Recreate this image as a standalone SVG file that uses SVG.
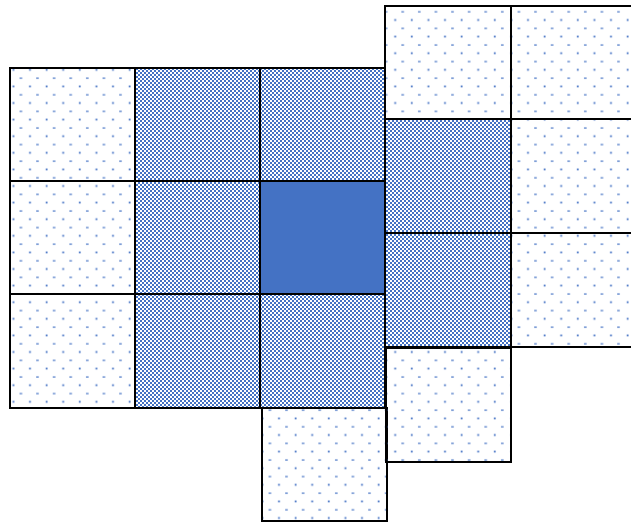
<svg xmlns="http://www.w3.org/2000/svg" width="631" height="523" viewBox="0 0 631 523">
<defs>
<pattern id="dots" x="0" y="0" width="16.6" height="16.6" patternUnits="userSpaceOnUse">
<rect x="12.5" y="2.5" width="1.8" height="1.8" fill="#4472C4"/>
<rect x="3" y="11.2" width="2.6" height="1.2" fill="#4472C4"/>
</pattern>
<pattern id="check" x="0" y="0" width="4" height="4" patternUnits="userSpaceOnUse">
<rect width="4" height="4" fill="#ffffff" shape-rendering="crispEdges"/>
<rect x="0" y="0" width="2" height="2" fill="#4472C4" shape-rendering="crispEdges"/>
<rect x="2" y="2" width="2" height="2" fill="#4472C4" shape-rendering="crispEdges"/>
</pattern>
</defs>
<style>
.c{stroke:#000;stroke-width:2;}
.d{fill:url(#dots);}
.k{fill:url(#check);}
.s{fill:#4472C4;}
</style>
<rect width="631" height="523" fill="#fff"/>
<g id="left-col">
<rect id="n1" class="c d" x="10" y="68" width="125" height="113"/>
<rect id="n2" class="c d" x="10" y="181" width="125" height="113"/>
<rect id="n3" class="c d" x="10" y="294" width="125" height="114"/>
</g>
<g id="mid">
<rect id="n4" class="c k" x="135" y="68" width="125" height="113"/>
<rect id="n5" class="c k" x="260" y="68" width="125" height="113"/>
<rect id="n6" class="c k" x="135" y="181" width="125" height="113"/>
<rect id="n7" class="c s" x="260" y="181" width="125" height="113"/>
<rect id="n8" class="c k" x="135" y="294" width="125" height="114"/>
<rect id="n9" class="c k" x="260" y="294" width="125" height="114"/>
<rect id="n10" class="c d" x="262" y="408" width="125" height="113"/>
</g>
<g id="right-col">
<rect id="n11" class="c d" x="385" y="6" width="126" height="113"/>
<rect id="n12" class="c k" x="385" y="119" width="126" height="114"/>
<rect id="n13" class="c k" x="385" y="233" width="126" height="114"/>
<rect id="n14" class="c d" x="386" y="348" width="125" height="114"/>
</g>
<g id="far-right">
<rect id="n15" class="c d" x="511" y="6" width="125" height="113"/>
<rect id="n16" class="c d" x="511" y="119" width="125" height="114"/>
<rect id="n17" class="c d" x="511" y="233" width="125" height="114"/>
</g>
<g id="connectors"/>
</svg>
